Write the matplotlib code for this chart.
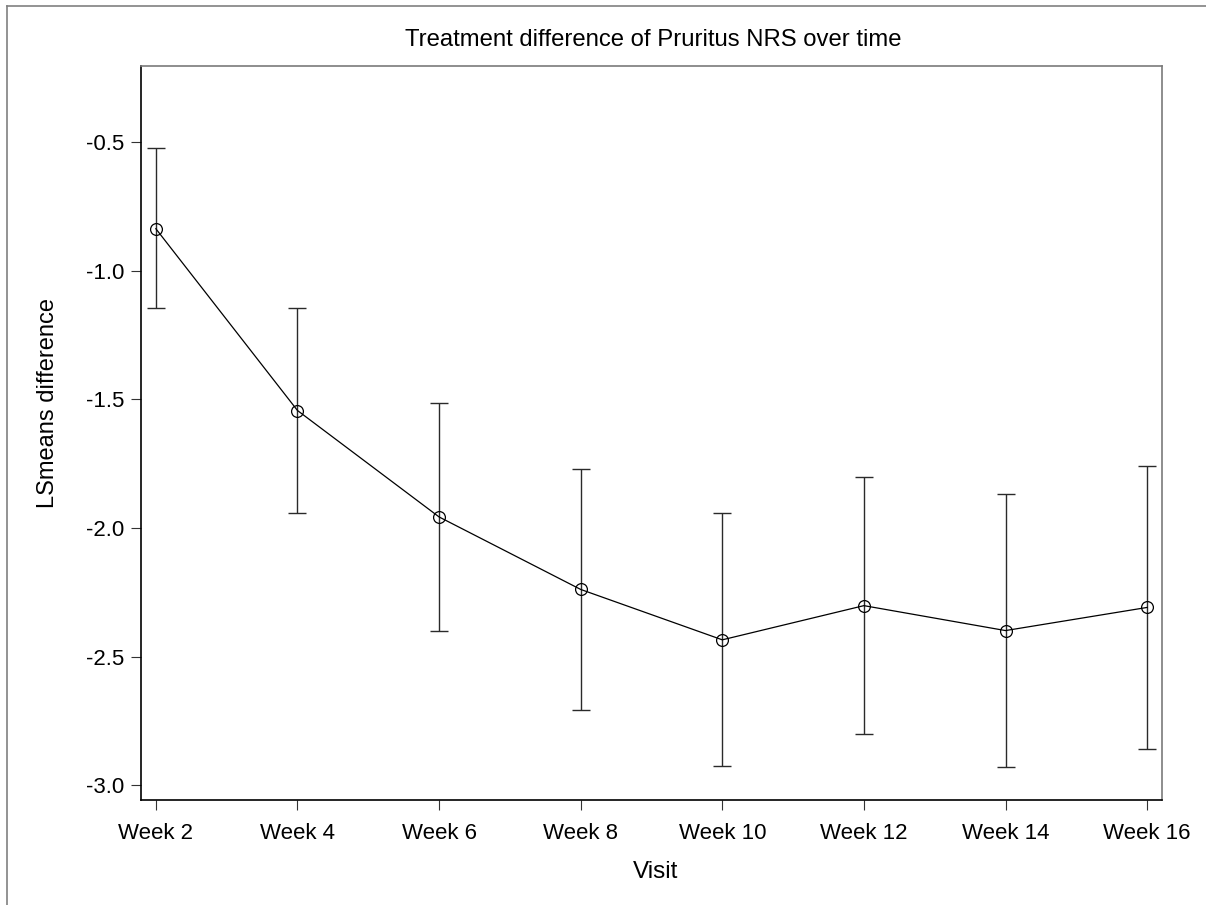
import matplotlib
matplotlib.use("Agg")
import matplotlib.pyplot as plt
from matplotlib.lines import Line2D

plt.rcParams["font.family"] = ["Liberation Sans", "DejaVu Sans"]

visits = ["Week 2", "Week 4", "Week 6", "Week 8", "Week 10", "Week 12", "Week 14", "Week 16"]
lsmean_diff = [-0.836, -1.543, -1.957, -2.239, -2.435, -2.302, -2.399, -2.309]
ci_lower = [-1.146, -1.941, -2.400, -2.706, -2.926, -2.803, -2.931, -2.860]
ci_upper = [-0.522, -1.146, -1.514, -1.771, -1.943, -1.800, -1.867, -1.757]
y_ticks = [-3.0, -2.5, -2.0, -1.5, -1.0, -0.5]

W, H = 1206, 905
fig = plt.figure(figsize=(W / 100, H / 100), dpi=100)
ax = fig.add_axes([141 / W, 1 - 800 / H, (1162 - 141) / W, (800 - 66) / H])

x = list(range(len(visits)))
err_lo = [m - lo for m, lo in zip(lsmean_diff, ci_lower)]
err_hi = [hi - m for m, hi in zip(lsmean_diff, ci_upper)]

ax.errorbar(x, lsmean_diff, yerr=[err_lo, err_hi], fmt="none",
            ecolor="#2a2a2a", elinewidth=1.0, capsize=6.8, capthick=1.0, zorder=2)
ax.plot(x, lsmean_diff, color="black", linewidth=0.9, marker="o", markersize=8.5,
        markerfacecolor="none", markeredgecolor="black", markeredgewidth=0.9, zorder=3)

ax.set_xlim(-0.105, 7.105)
ax.set_ylim(-3.058, -0.203)
ax.set_xticks(x)
ax.set_xticklabels(visits)
ax.set_yticks(y_ticks)
ax.set_yticklabels([f"{v:.1f}" for v in y_ticks])
ax.tick_params(axis="both", labelsize=16, length=7.2, width=0.8, color="#333333")
ax.tick_params(axis="x", pad=9)
ax.tick_params(axis="y", pad=5)

for side in ("left", "bottom"):
    ax.spines[side].set_color("black")
    ax.spines[side].set_linewidth(1.2)
for side in ("top", "right"):
    ax.spines[side].set_color("#7a7a7a")
    ax.spines[side].set_linewidth(1.2)

fig.text(653 / W, 1 - 40 / H, "Treatment difference of Pruritus NRS over time",
         ha="center", va="center", fontsize=17.2)
fig.text(48 / W, 1 - 403 / H, "LSmeans difference", ha="center", va="center",
         rotation=90, fontsize=17)
fig.text(656 / W, 1 - 872 / H, "Visit", ha="center", va="center", fontsize=17.5)

# thin gray frame along the top and left edges of the page
fig.add_artist(Line2D([7 / W, 7 / W], [0, 1 - 6 / H], color="#808080", linewidth=1.2,
                      transform=fig.transFigure))
fig.add_artist(Line2D([7 / W, 1], [1 - 6 / H, 1 - 6 / H], color="#808080", linewidth=1.2,
                      transform=fig.transFigure))

fig.savefig("out.png", dpi=100)
